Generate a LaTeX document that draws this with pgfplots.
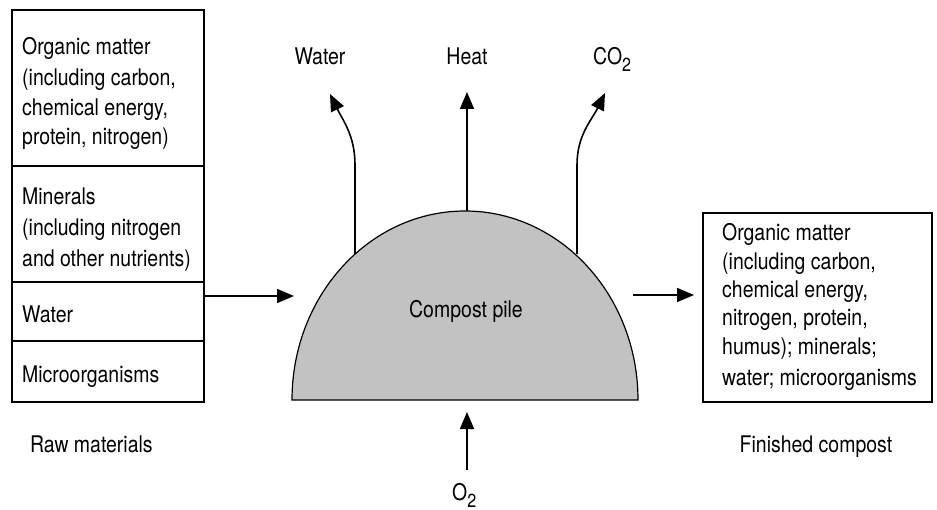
\documentclass[border=0pt]{standalone}
\usepackage{fontspec}
\setmainfont[FakeStretch=0.85]{TeX Gyre Heros}
\usepackage{pgfplots}
\pgfplotsset{compat=1.18}
\usetikzlibrary{arrows.meta}
\begin{document}
\begin{tikzpicture}
\begin{axis}[
  x=1bp, y=1bp, y dir=reverse,
  xmin=0, xmax=937, ymin=0, ymax=510,
  hide axis, clip=false, scale only axis,
]
\path (axis cs:0,0) rectangle (axis cs:937,510);
\tikzset{lbl/.style={inner sep=0pt, font=\fontsize{23}{27}\selectfont},
         arr/.style={line width=1.6bp, -{Triangle[length=17bp,width=14bp]}}}
% dome
\draw[line width=1.2bp, fill=black!24] (axis cs:292,400) arc[start angle=180, end angle=0, x radius=173bp, y radius=189bp] -- cycle;
\node[lbl, anchor=base] at (axis cs:466,318) {Compost pile};
% left box
\draw[line width=1.7bp] (axis cs:12,10) rectangle (axis cs:204,402);
\draw[line width=1.7bp] (axis cs:12,166) -- (axis cs:204,166);
\draw[line width=1.7bp] (axis cs:12,282) -- (axis cs:204,282);
\draw[line width=1.7bp] (axis cs:12,341) -- (axis cs:204,341);
\node[lbl, anchor=base west] at (axis cs:22,55) {Organic matter};
\node[lbl, anchor=base west] at (axis cs:22,86) {(including carbon,};
\node[lbl, anchor=base west] at (axis cs:22,116) {chemical energy,};
\node[lbl, anchor=base west] at (axis cs:22,145) {protein, nitrogen)};
\node[lbl, anchor=base west] at (axis cs:22,205) {Minerals};
\node[lbl, anchor=base west] at (axis cs:22,236) {(including nitrogen};
\node[lbl, anchor=base west] at (axis cs:22,267) {and other nutrients)};
\node[lbl, anchor=base west] at (axis cs:22,323) {Water};
\node[lbl, anchor=base west] at (axis cs:22,382) {Microorganisms};
\node[lbl, anchor=base west] at (axis cs:30,452) {Raw materials};
% right box
\draw[line width=1.7bp] (axis cs:703,213) rectangle (axis cs:932,402);
\node[lbl, anchor=base west] at (axis cs:722,241) {Organic matter};
\node[lbl, anchor=base west] at (axis cs:722,270) {(including carbon,};
\node[lbl, anchor=base west] at (axis cs:722,298) {chemical energy,};
\node[lbl, anchor=base west] at (axis cs:722,326) {nitrogen, protein,};
\node[lbl, anchor=base west] at (axis cs:722,355) {humus); minerals;};
\node[lbl, anchor=base west] at (axis cs:722,385) {water; microorganisms};
\node[lbl, anchor=base] at (axis cs:816,452) {Finished compost};
% arrows
\draw[arr] (axis cs:205,296) -- (axis cs:294,296);
\draw[arr] (axis cs:633,295) -- (axis cs:694,295);
\draw[arr] (axis cs:467,211) -- (axis cs:467,92);
\draw[arr] (axis cs:355,254) -- (axis cs:355,165) to[out=90,in=-64] (axis cs:330,94);
\draw[arr] (axis cs:577,254) -- (axis cs:577,165) to[out=90,in=-116] (axis cs:605,93);
\draw[arr] (axis cs:467,470) -- (axis cs:467,412);
% labels
\node[lbl, anchor=base] at (axis cs:320,65) {Water};
\node[lbl, anchor=base] at (axis cs:467,65) {Heat};
\node[lbl, anchor=base west] at (axis cs:593,65) {CO\raisebox{-7bp}{\fontsize{19}{19}\selectfont 2}};
\node[lbl, anchor=base west] at (axis cs:452,500) {O\raisebox{-7bp}{\fontsize{19}{19}\selectfont 2}};
\end{axis}
\end{tikzpicture}
\end{document}
